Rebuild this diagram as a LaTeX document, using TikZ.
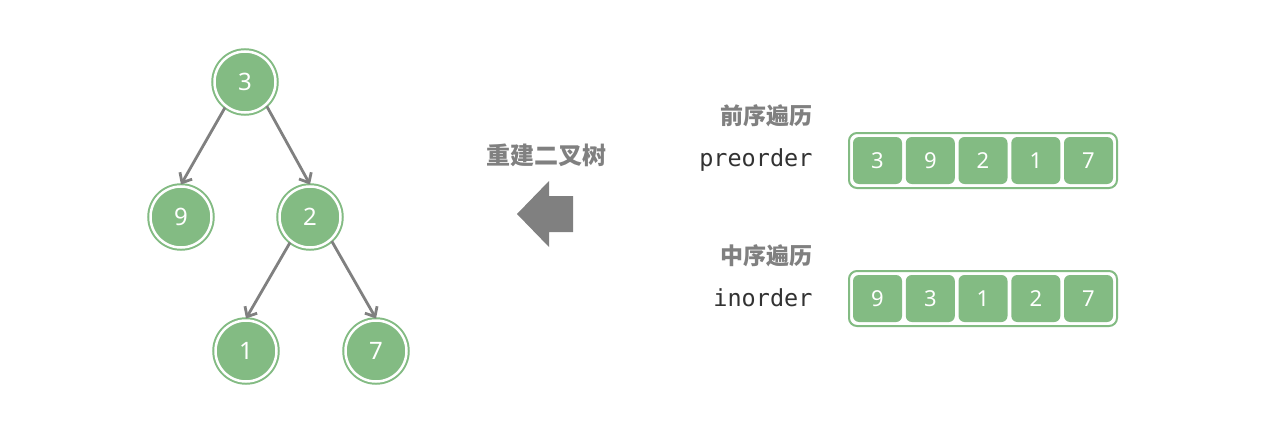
\documentclass[tikz,border=0pt]{standalone}
\usepackage{fontspec}
\setmainfont{Noto Sans}
\setmonofont{DejaVu Sans Mono}
\newfontfamily\cjk{Noto Sans CJK SC}
\usetikzlibrary{arrows.meta}
\definecolor{nodegreen}{RGB}{131,187,131}
\definecolor{edgegray}{RGB}{128,128,128}
\definecolor{textdark}{RGB}{50,50,50}
\begin{document}
\begin{tikzpicture}[x=1pt,y=-1pt,
  tnode/.style={circle, fill=nodegreen, draw=nodegreen, line width=2pt, double=white, double distance=2.5pt, minimum size=61pt, inner sep=0pt, outer sep=2pt, text=white, font=\fontsize{24}{24}\selectfont},
  edge/.style={draw=edgegray, line width=2.8pt, -{Straight Barb[length=8pt,width=14pt]}},
  cell/.style={rectangle, rounded corners=6pt, fill=nodegreen, minimum width=49pt, minimum height=47pt, inner sep=0pt, text=white, font=\fontsize{22}{22}\selectfont},
  outerbox/.style={rectangle, rounded corners=8pt, draw=nodegreen, line width=2pt, fill=white, minimum width=268pt, minimum height=55pt, inner sep=0pt},
  cnlabel/.style={anchor=east, text=edgegray, font=\cjk\bfseries\fontsize{23}{23}\selectfont},
  monolabel/.style={anchor=east, text=textdark, font=\ttfamily\fontsize{23.5}{23.5}\selectfont}]
\useasboundingbox (0,0) rectangle (1280,436);
\fill[white] (0,0) rectangle (1280,436);
% tree
\node[tnode] (n3) at (245,82) {3};
\node[tnode] (n9) at (181,217) {9};
\node[tnode] (n2) at (310,217) {2};
\node[tnode] (n1) at (246,351) {1};
\node[tnode] (n7) at (376,351) {7};
\draw[edge] (n3.232) -- (n9.north);
\draw[edge] (n3.312) -- (n2.north);
\draw[edge] (n2.232) -- (n1.north);
\draw[edge] (n2.312) -- (n7.north);
% big arrow
\node[text=edgegray, font=\cjk\bfseries\fontsize{24}{24}\selectfont] (rebuild) at (546,155) {重建二叉树};
\fill[edgegray] (517,214) -- (549,181) -- (549,196) -- (573,196) -- (573,232) -- (549,232) -- (549,247) -- cycle;
% preorder
\node[cnlabel] (precn) at (816,116) {前序遍历};
\node[monolabel] (prelbl) at (816,160) {preorder};
\node[outerbox] (prebox) at (983,160.5) {};
\node[cell] (p1) at (877.5,160.5) {3};
\node[cell] (p2) at (930.3,160.5) {9};
\node[cell] (p3) at (983,160.5) {2};
\node[cell] (p4) at (1035.8,160.5) {1};
\node[cell] (p5) at (1088.5,160.5) {7};
% inorder
\node[cnlabel] (incn) at (816,256) {中序遍历};
\node[monolabel] (inlbl) at (816,298) {inorder};
\node[outerbox] (inbox) at (983,298.5) {};
\node[cell] (i1) at (877.5,298.5) {9};
\node[cell] (i2) at (930.3,298.5) {3};
\node[cell] (i3) at (983,298.5) {1};
\node[cell] (i4) at (1035.8,298.5) {2};
\node[cell] (i5) at (1088.5,298.5) {7};
\end{tikzpicture}
\end{document}
